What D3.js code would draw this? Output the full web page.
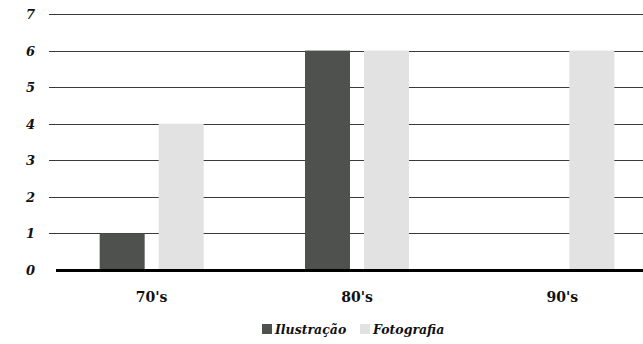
<!DOCTYPE html>
<html><head><meta charset="utf-8">
<script src="https://cdn.jsdelivr.net/npm/d3@7"></script>
<style>body{margin:0;background:#fff}</style>
</head><body>
<svg id="c" width="643" height="344"></svg>
<script>
const categories = ["70's", "80's", "90's"];
const seriesNames = ["Ilustração", "Fotografia"];
const ilustracao = [1, 6, 0];
const fotografia = [4, 6, 6];
const yTicks = [0, 1, 2, 3, 4, 5, 6, 7];
const colors = ["#4f514f", "#e1e2e1"];

const svg = d3.select("#c");
const font = "'DejaVu Serif', serif";
const y = d3.scaleLinear().domain([0, 7]).range([270, 14]);
const x = d3.scaleBand().domain(categories).range([49, 665]);
const xs = d3.scaleBand().domain(seriesNames).range([-52, 52]).paddingInner(14/59);

// gridlines
svg.append("g").selectAll("line").data(yTicks.filter(d => d > 0)).join("line")
  .attr("x1", 49).attr("x2", 643)
  .attr("y1", d => Math.round(y(d)) + 0.5).attr("y2", d => Math.round(y(d)) + 0.5)
  .attr("stroke", "#3a3a3a").attr("stroke-width", 1);

// y labels
svg.append("g").selectAll("text").data(yTicks).join("text")
  .attr("x", 35).attr("y", d => y(d) + 5)
  .attr("text-anchor", "end")
  .attr("font-family", font).attr("font-weight", "bold").attr("font-style", "italic")
  .attr("font-size", 13).attr("fill", "#111")
  .text(d => d);

const data = categories.map((c, i) => ({c, vals: [ilustracao[i], fotografia[i]]}));
const groups = svg.append("g").selectAll("g").data(data).join("g")
  .attr("transform", d => `translate(${x(d.c) + x.bandwidth()/2},0)`);
groups.selectAll("rect").data(d => d.vals.map((v, j) => ({v, s: seriesNames[j], j}))).join("rect")
  .attr("x", d => xs(d.s)).attr("width", xs.bandwidth())
  .attr("y", d => y(d.v)).attr("height", d => y(0) - y(d.v))
  .attr("fill", d => colors[d.j]);

// baseline
svg.append("line").attr("x1", 56).attr("x2", 643).attr("y1", 270.5).attr("y2", 270.5)
  .attr("stroke", "#000").attr("stroke-width", 3);

// x labels
svg.append("g").selectAll("text").data(categories).join("text")
  .attr("x", d => x(d) + x.bandwidth()/2).attr("y", 302)
  .attr("text-anchor", "middle")
  .attr("font-family", font).attr("font-weight", "bold")
  .attr("font-size", 14).attr("fill", "#111")
  .text(d => d);

// legend
const legX = [262, 360];
const leg = svg.append("g").selectAll("g").data(seriesNames).join("g")
  .attr("transform", (d, i) => `translate(${legX[i]},324)`);
leg.append("rect").attr("width", 10).attr("height", 10).attr("fill", (d, i) => colors[i]);
leg.append("text").attr("x", 13).attr("y", 10)
  .attr("font-family", font).attr("font-weight", "bold").attr("font-style", "italic")
  .attr("font-size", 12.5).attr("fill", "#111").text(d => d);
</script>
</body></html>
